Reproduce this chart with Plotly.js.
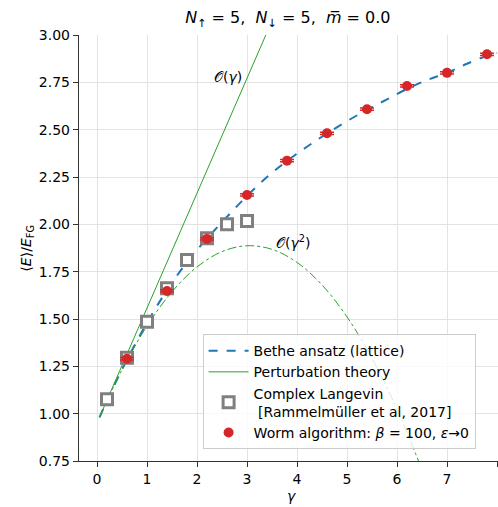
<!DOCTYPE html>
<html>
<head>
<meta charset="utf-8">
<script src="https://cdn.plot.ly/plotly-3.0.1.min.js"></script>
<style>html,body{margin:0;padding:0;background:#fff;}#plot{width:498px;height:507px;}</style>
</head>
<body>
<div id="plot"></div>
<script>
// Bethe ansatz (lattice) curve
const betheGamma = [0.05, 0.2, 0.6, 1.0, 1.4, 1.8, 2.2, 2.6, 3.0, 3.4, 3.8, 4.2, 4.6, 5.0, 5.4, 5.8, 6.2, 6.6, 7.0, 7.4, 7.8, 8.0];
const betheE     = [0.98, 1.07, 1.285, 1.48, 1.652, 1.80, 1.925, 2.04, 2.15, 2.25, 2.335, 2.41, 2.48, 2.545, 2.605, 2.66, 2.715, 2.762, 2.80, 2.848, 2.89, 2.905];
// Perturbation theory, first order O(gamma)
const pt1Gamma = [0.05, 3.5];
const pt1E     = [0.981, 3.075];
// Perturbation theory, second order O(gamma^2)
const pt2Gamma = [0.05, 0.5, 1.0, 1.5, 2.0, 2.5, 3.0, 3.5, 4.0, 4.5, 5.0, 5.5, 6.0, 6.5];
const pt2E     = [0.981, 1.232, 1.463, 1.644, 1.775, 1.856, 1.887, 1.868, 1.799, 1.680, 1.511, 1.292, 1.023, 0.704];
// Complex Langevin [Rammelmüller et al, 2017]
const clGamma = [0.2, 0.6, 1.0, 1.4, 1.8, 2.2, 2.6, 3.0];
const clE     = [1.076, 1.295, 1.486, 1.662, 1.812, 1.926, 2.0, 2.018];
const clErr   = [0.012, 0.012, 0.012, 0.012, 0.012, 0.012, 0.012, 0.012];
// Worm algorithm: beta = 100, eps -> 0
const wormGamma = [0.6, 1.4, 2.2, 3.0, 3.8, 4.6, 5.4, 6.2, 7.0, 7.8];
const wormE     = [1.290, 1.648, 1.923, 2.155, 2.336, 2.481, 2.608, 2.731, 2.800, 2.898];
const wormErr   = [0.006, 0.006, 0.006, 0.006, 0.006, 0.006, 0.006, 0.006, 0.006, 0.006];
// Axis ticks
const xTicks = [0, 1, 2, 3, 4, 5, 6, 7, 8];
const yTicks = [0.75, 1.00, 1.25, 1.50, 1.75, 2.00, 2.25, 2.50, 2.75, 3.00];
const yTickText = ['0.75', '1.00', '1.25', '1.50', '1.75', '2.00', '2.25', '2.50', '2.75', '3.00'];

const FONT = 'DejaVu Sans, sans-serif';

const traces = [
  {x: betheGamma, y: betheE, mode: 'lines', name: 'Bethe ansatz (lattice)',
   line: {color: '#1f77b4', width: 2, dash: 'dash', shape: 'spline'}},
  {x: pt1Gamma, y: pt1E, mode: 'lines', name: 'Perturbation theory',
   line: {color: '#2ca02c', width: 1}},
  {x: pt2Gamma, y: pt2E, mode: 'lines', name: 'pt2', showlegend: false,
   line: {color: '#2ca02c', width: 1, dash: 'dashdot', shape: 'spline'}},
  {x: clGamma, y: clE, mode: 'markers', name: 'Complex Langevin<br> [Rammelmüller et al, 2017]',
   marker: {symbol: 'square', size: 11, color: '#ffffff', line: {color: '#808080', width: 3}},
   error_y: {type: 'data', array: clErr, visible: true, color: '#808080', thickness: 2.5, width: 7}},
  {x: wormGamma, y: wormE, mode: 'markers', name: 'Worm algorithm: <i>β</i> = 100, <i>ε</i>→0',
   marker: {symbol: 'circle', size: 10, color: '#d62728'},
   error_y: {type: 'data', array: wormErr, visible: true, color: '#d62728', thickness: 1.5, width: 7}}
];

const layout = {
  width: 498, height: 507,
  margin: {l: 79, r: 0, t: 35, b: 46},
  paper_bgcolor: '#ffffff', plot_bgcolor: '#ffffff',
  font: {family: FONT, size: 14, color: '#000000'},
  title: {text: '<i>N</i><sub>↑</sub> = 5,  <i>N</i><sub>↓</sub> = 5,  <i>m̅</i> = 0.0',
          font: {family: FONT, size: 16, color: '#000'}, x: 0.578, xanchor: 'center', y: 0.965, yanchor: 'middle'},
  xaxis: {range: [-0.36, 8.02], tickvals: xTicks, ticktext: xTicks.map(String),
          showgrid: true, gridcolor: '#e3e3e3', gridwidth: 1,
          showline: true, linecolor: '#333333', linewidth: 1.2,
          ticks: 'outside', ticklen: 5, tickcolor: '#333333', zeroline: false,
          tickfont: {family: FONT, size: 14}},
  yaxis: {range: [0.75, 3.0], tickvals: yTicks, ticktext: yTickText,
          showgrid: true, gridcolor: '#e3e3e3', gridwidth: 1,
          showline: true, linecolor: '#333333', linewidth: 1.2,
          ticks: 'outside', ticklen: 5, tickcolor: '#333333', zeroline: false,
          tickfont: {family: FONT, size: 14}},
  legend: {x: 0.295, y: 0.298, xanchor: 'left', yanchor: 'top',
           bgcolor: 'rgba(255,255,255,0.8)', bordercolor: '#cccccc', borderwidth: 1,
           font: {family: FONT, size: 14}, tracegroupgap: 0, itemwidth: 40},
  annotations: [
    {x: 2.62, y: 2.78, xref: 'x', yref: 'y', text: '𝒪(<i>γ</i>)', showarrow: false,
     font: {family: FONT, size: 14}},
    {x: 3.92, y: 1.905, xref: 'x', yref: 'y', text: '𝒪(<i>γ</i><sup>2</sup>)', showarrow: false,
     font: {family: FONT, size: 14}},
    {x: 0.508, y: -0.082, xref: 'paper', yref: 'paper', xanchor: 'center', yanchor: 'middle',
     text: '<i>γ</i>', showarrow: false, font: {family: FONT, size: 14}},
    {x: -0.125, y: 0.5, xref: 'paper', yref: 'paper', xanchor: 'center', yanchor: 'middle', textangle: -90,
     text: '⟨<i>E</i>⟩/<i>E</i><sub>FG</sub>', showarrow: false, font: {family: FONT, size: 14}}
  ],
  showlegend: true
};

Plotly.newPlot('plot', traces, layout, {displayModeBar: false, staticPlot: true});
</script>
</body>
</html>
